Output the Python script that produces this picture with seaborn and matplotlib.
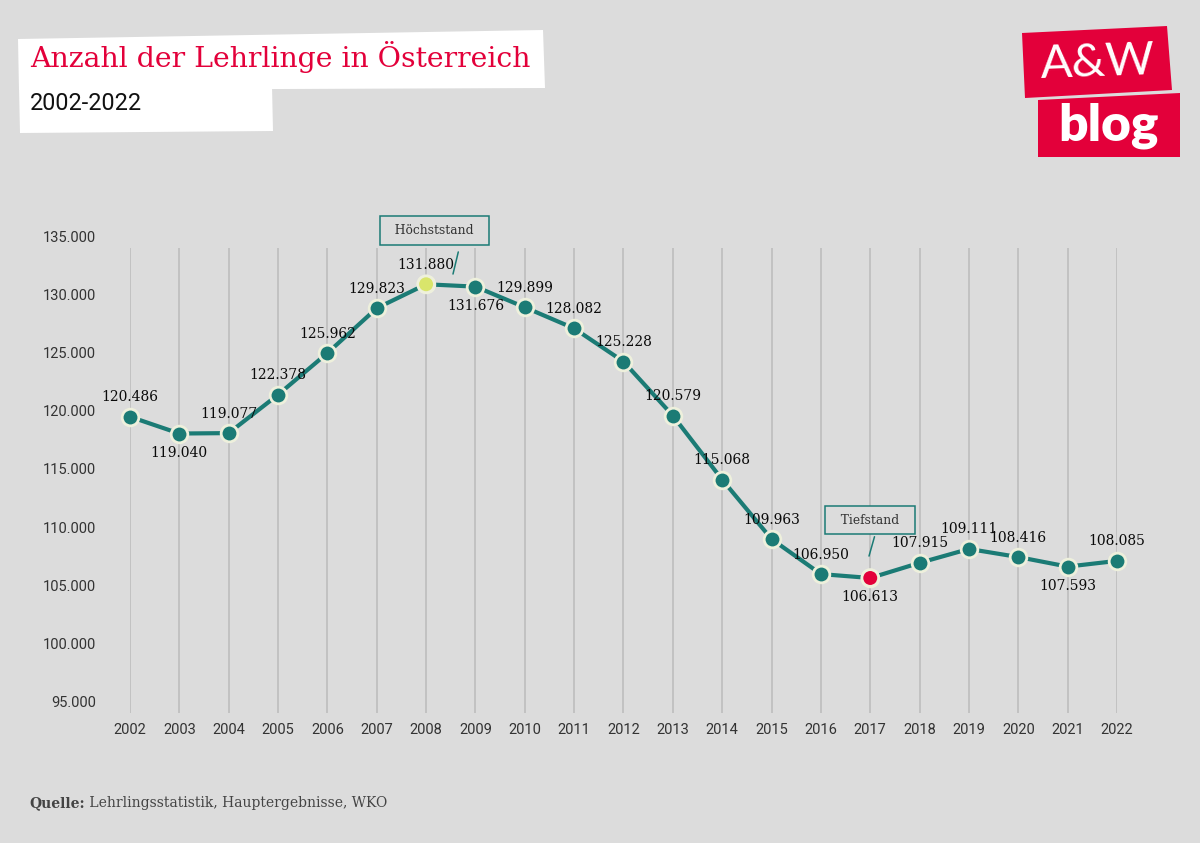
import matplotlib
matplotlib.use("Agg")
import matplotlib.pyplot as plt
import seaborn as sns
import pandas as pd
from matplotlib.patches import Polygon

# ---------------- data ----------------
years = list(range(2002, 2023))
lehrlinge = [120486, 119040, 119077, 122378, 125962, 129823, 131880, 131676,
             129899, 128082, 125228, 120579, 115068, 109963, 106950, 106613,
             107915, 109111, 108416, 107593, 108085]
label_side = ["above", "below", "above", "above", "above", "above", "above", "below",
              "above", "above", "above", "above", "above", "above", "above", "below",
              "above", "above", "above", "below", "above"]
y_ticks = [95000, 100000, 105000, 110000, 115000, 120000, 125000, 130000, 135000]
max_year, min_year = 2008, 2017

title = "Anzahl der Lehrlinge in Österreich"
subtitle = "2002-2022"
source_bold = "Quelle:"
source_rest = " Lehrlingsstatistik, Hauptergebnisse, WKO"


def de(v):
    return f"{v:,}".replace(",", ".")


# ---------------- style ----------------
BG = "#DCDCDC"
TEAL = "#1B7B75"
CREAM = "#EEF0DC"
RED = "#E3003A"
YELLOW = "#D9E56B"
GRID = "#BDBDBD"
SERIF = ["DejaVu Serif", "DejaVu Sans"]

sns.set_theme(style="white")
plt.rcParams["font.family"] = ["Roboto", "DejaVu Sans"]

W, H = 1200, 843
fig = plt.figure(figsize=(W / 100, H / 100), dpi=100, facecolor=BG)


def px(x, y):
    return (x / W, 1 - y / H)


ax = fig.add_axes([130 / W, 1 - 713 / H, 987 / W, 465 / H])
ax.set_facecolor(BG)
for s in ax.spines.values():
    s.set_visible(False)

df = pd.DataFrame({"Jahr": years, "Lehrlinge": lehrlinge})

sns.lineplot(data=df, x="Jahr", y="Lehrlinge", ax=ax, color=TEAL, linewidth=3,
             marker="o", markersize=12, markerfacecolor=TEAL,
             markeredgecolor=CREAM, markeredgewidth=2, clip_on=False, zorder=5)

hi = df[df["Jahr"].isin([max_year, min_year])].copy()
hi["farbe"] = hi["Jahr"].map({max_year: "max", min_year: "min"})
sns.scatterplot(data=hi, x="Jahr", y="Lehrlinge", hue="farbe",
                palette={"max": YELLOW, "min": RED}, s=145, edgecolor=CREAM,
                linewidth=2, ax=ax, legend=False, zorder=6, clip_on=False)

ax.set_xlim(2002, 2022)
ax.set_ylim(95000, 135000)
ax.set_xticks(years)
ax.set_xticklabels([str(y) for y in years], fontsize=10.5, color="#333333")
ax.tick_params(axis="x", length=0, pad=7.5)
ax.set_yticks(y_ticks)
ax.set_yticklabels([])
ax.tick_params(axis="y", length=0)
ax.grid(axis="x", color=GRID, linewidth=1.2)
ax.grid(axis="y", visible=False)
ax.set_xlabel("")
ax.set_ylabel("")

# y labels placed above their tick position
for t in y_ticks:
    ax.annotate(de(t), xy=(0, t), xycoords=ax.get_yaxis_transform(),
                xytext=(-34 * 0.72, 10 * 0.72), textcoords="offset points",
                ha="right", va="center", fontsize=10.5, color="#333333")

# data labels
for yr, v, side in zip(years, lehrlinge, label_side):
    dy = 19.5 if side == "above" else -19.5
    ax.annotate(de(v), xy=(yr, v), xytext=(0, dy * 0.72), textcoords="offset points",
                ha="center", va="center", fontsize=10, color="#0A0A0A",
                family=SERIF, zorder=7, annotation_clip=False)

# annotations
ann_kw = dict(textcoords="offset points", ha="center", va="center", fontsize=8.8,
              color="#333333", family=SERIF, annotation_clip=False,
              bbox=dict(boxstyle="square,pad=0.62", fc=BG, ec=TEAL, lw=1.1))
ax.annotate("  Höchststand  ", xy=(2008.545, 132760), xytext=(-13.3, 31.3),
            arrowprops=dict(arrowstyle="-", color=TEAL, lw=1.1, relpos=(0.79, 0),
                            shrinkA=5, shrinkB=0), **ann_kw)
ax.annotate("  Tiefstand  ", xy=(2016.975, 108500), xytext=(0.7, 25.9),
            arrowprops=dict(arrowstyle="-", color=TEAL, lw=1.1, relpos=(0.6, 0),
                            shrinkA=1.5, shrinkB=0), **ann_kw)

# ---------------- header ----------------
fig.patches.append(Polygon([px(18, 39), px(543, 30), px(545, 88), px(19, 90)],
                           closed=True, transform=fig.transFigure, fc="white", ec="none"))
fig.patches.append(Polygon([px(19, 86), px(272, 86), px(273, 131), px(20, 133)],
                           closed=True, transform=fig.transFigure, fc="white", ec="none"))
fig.text(*px(30, 57), title, fontsize=20.4, color=RED, family=SERIF, va="center", ha="left")
fig.text(*px(30, 103), subtitle, fontsize=16.8, color="#111111", va="center", ha="left")

# logo
fig.patches.append(Polygon([px(1022, 33), px(1167, 26), px(1172, 90), px(1025, 98)],
                           closed=True, transform=fig.transFigure, fc=RED, ec="none"))
fig.patches.append(Polygon([px(1038, 100), px(1180, 93), px(1180, 157), px(1038, 157)],
                           closed=True, transform=fig.transFigure, fc=RED, ec="none"))
fig.text(*px(1098, 63), "A&W", fontsize=34, color="white", family=["Lato", "DejaVu Sans"],
         fontweight="normal", ha="center", va="center", rotation=2)
fig.text(*px(1108, 126), "blog", fontsize=37, color="white", family=["Lato", "DejaVu Sans"],
         fontweight="heavy", ha="center", va="center")

# source
t1 = fig.text(*px(29, 803), source_bold, fontsize=10, fontweight="bold", color="#444444",
              family=SERIF, va="center", ha="left")
fig.canvas.draw()
bb = t1.get_window_extent(fig.canvas.get_renderer())
fig.text(bb.x1 / W, 1 - 803 / H, source_rest, fontsize=10, color="#444444",
         family=SERIF, va="center", ha="left")

fig.savefig("out.png", dpi=100, facecolor=BG)
